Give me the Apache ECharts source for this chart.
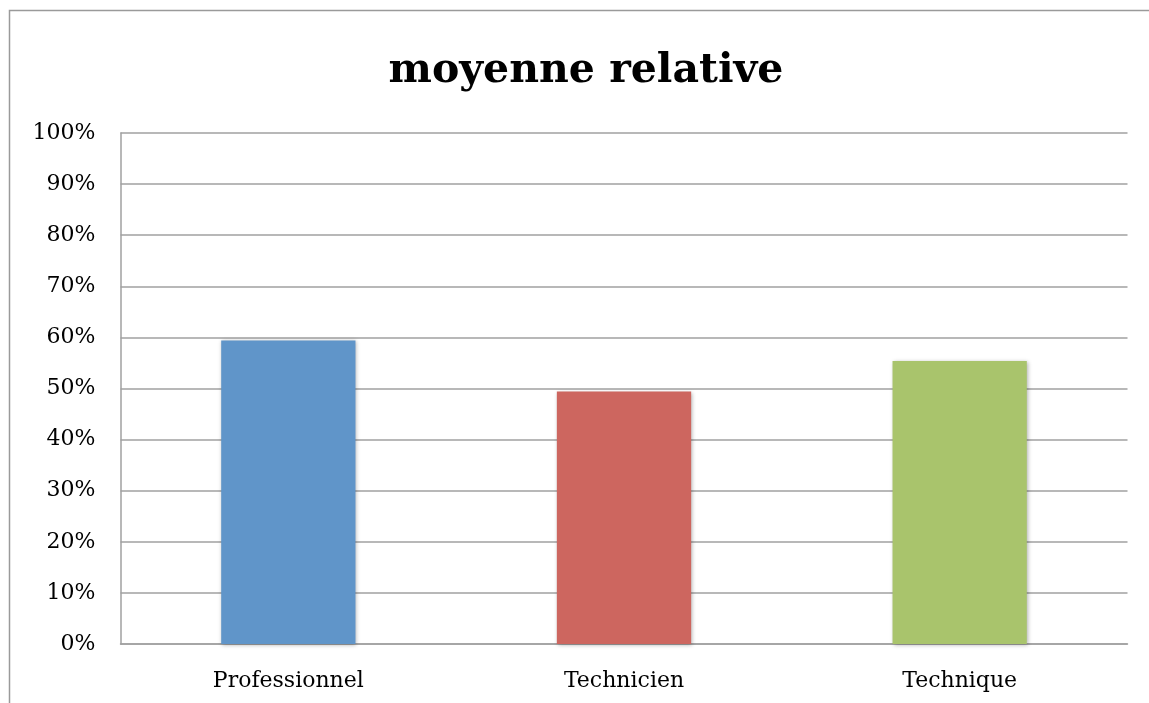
<!DOCTYPE html>
<html><head><meta charset="utf-8">
<script src="https://cdn.jsdelivr.net/npm/echarts@6/dist/echarts.min.js"></script>
<style>html,body{margin:0;padding:0;background:#fff}#c{width:1149px;height:703px}</style>
</head><body><div id="c"></div>
<script>
const categories = ['Professionnel', 'Technicien', 'Technique'];
const values = [59.4, 49.4, 55.4];
const barColors = ['#6095C9', '#CD665F', '#A9C46C'];
const yTicks = { min: 0, max: 100, interval: 10 };
const titleText = 'moyenne relative';

const chart = echarts.init(document.getElementById('c'), null, { renderer: 'canvas' });
chart.setOption({
  animation: false,
  backgroundColor: '#fff',
  title: {
    text: titleText, left: 581, top: 46, textAlign: 'center',
    textStyle: { fontFamily: 'DejaVu Serif', fontWeight: 'bold', fontSize: 41, color: '#000' }
  },
  graphic: [{
    type: 'rect', shape: { x: 9.5, y: 10.5, width: 1300, height: 900 },
    style: { fill: 'none', stroke: '#9a9a9a', lineWidth: 1.5 }, silent: true, z: -1
  }],
  grid: { left: 120.5, right: 21.5, top: 133, bottom: 59 },
  xAxis: {
    type: 'category', data: categories,
    axisLine: { lineStyle: { color: '#a0a0a0', width: 1.5 } },
    axisTick: { show: false },
    axisLabel: { fontFamily: 'DejaVu Serif', fontSize: 22, color: '#000', margin: 26 }
  },
  yAxis: {
    type: 'value', min: yTicks.min, max: yTicks.max, interval: yTicks.interval,
    axisLine: { show: true, lineStyle: { color: '#a0a0a0', width: 1.5 } },
    axisTick: { show: false },
    splitLine: { lineStyle: { color: '#a0a0a0', width: 1.5 } },
    axisLabel: { formatter: '{value}%', fontFamily: 'DejaVu Serif', fontSize: 22, color: '#000', margin: 25 }
  },
  series: [{
    type: 'bar', barWidth: '40%',
    data: values.map((v, i) => ({ value: v, itemStyle: { color: barColors[i] } })),
    itemStyle: { shadowBlur: 4, shadowColor: 'rgba(0,0,0,0.3)', shadowOffsetX: 1, shadowOffsetY: 1 }
  }]
});
</script></body></html>
